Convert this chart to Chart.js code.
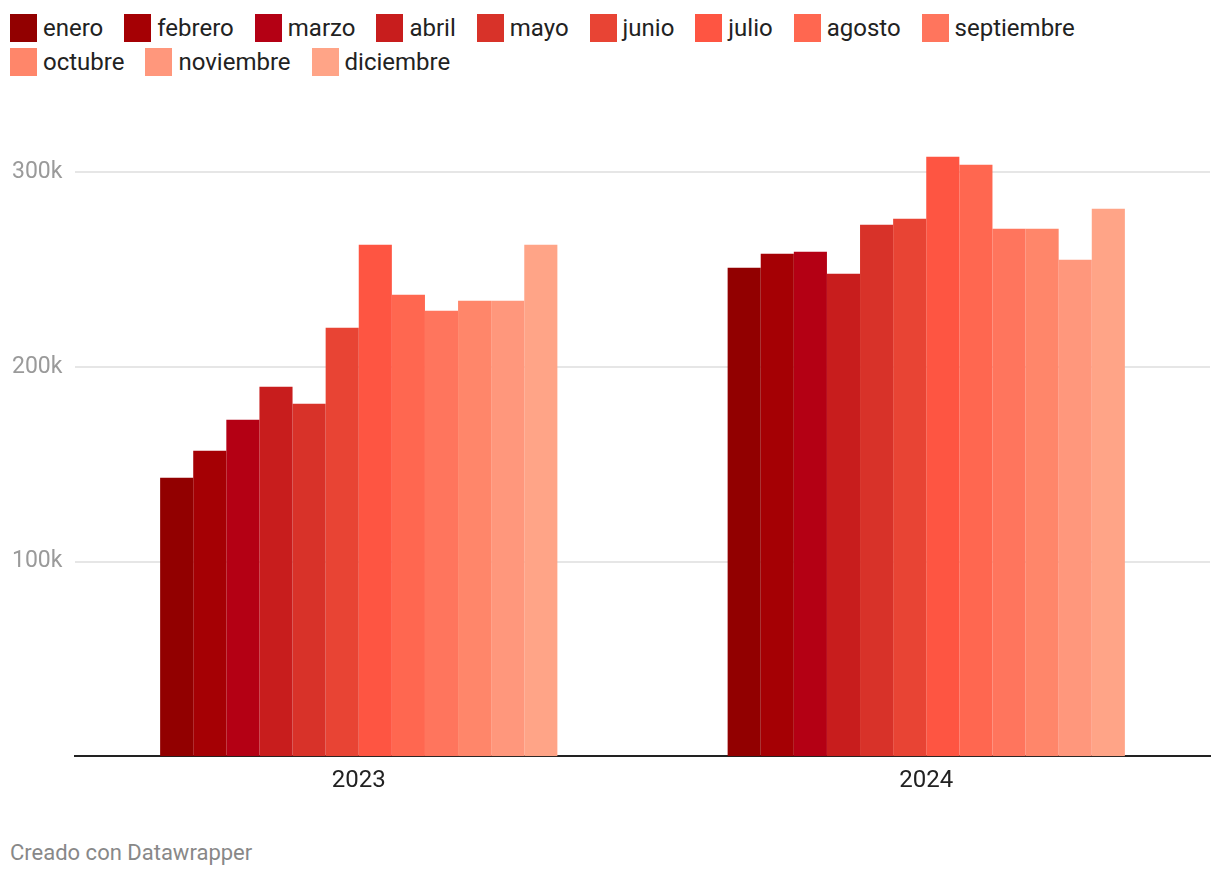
<!DOCTYPE html>
<html lang="es">
<head>
<meta charset="UTF-8">
<title>Meses 2023 - 2024</title>
<script src="https://cdn.jsdelivr.net/npm/chart.js"></script>
<style>
  body { margin: 0; background: #fff; font-family: Roboto, "Noto Sans", sans-serif; }
  #legend { position: absolute; left: 10px; top: 14px; width: 1120px; display: flex; flex-wrap: wrap; row-gap: 6px; }
  .item { display: flex; align-items: center; margin-right: 21px; height: 28px; font-size: 24px; color: #222; }
  .box { width: 27px; height: 28px; margin-right: 6px; }
  #wrap { position: absolute; left: 0; top: 120px; width: 1220px; height: 677px; }
  #credit { position: absolute; left: 10px; top: 840px; font-size: 22px; color: #888; }
</style>
</head>
<body>

<div id="legend"></div>
<div id="wrap"><canvas id="chart"></canvas></div>
<div id="credit">Creado con Datawrapper</div>

<script>
const years = ['2023', '2024'];
const months = ['enero', 'febrero', 'marzo', 'abril', 'mayo', 'junio', 'julio',
                'agosto', 'septiembre', 'octubre', 'noviembre', 'diciembre'];
// value per month, [2023, 2024]
const values2023 = [143000, 156900, 172800, 189800, 181000, 220100, 262700, 237000, 228800, 233900, 233900, 262700];
const values2024 = [250900, 258100, 259100, 247800, 273000, 276100, 307900, 303800, 270900, 270900, 255000, 281200];
const colors = ['#920000', '#a50004', '#b40014', '#c81d1d', '#d83229', '#e84434',
                '#fe5542', '#ff6750', '#ff755d', '#ff866a', '#ff977c', '#ffa487'];
const yTicks = [100000, 200000, 300000];

// legend
const legend = document.getElementById('legend');
months.forEach((m, i) => {
    const item = document.createElement('div');
    item.className = 'item';
    item.innerHTML = '<span class="box" style="background:' + colors[i] + '"></span>' + m;
    legend.appendChild(item);
});

const datasets = months.map((m, i) => ({
    label: m,
    data: [values2023[i], values2024[i]],
    backgroundColor: colors[i],
    borderWidth: 0,
    categoryPercentage: 0.7,
    barPercentage: 1.0
}));

new Chart(document.getElementById('chart'), {
    type: 'bar',
    data: { labels: years, datasets: datasets },
    options: {
        responsive: true,
        maintainAspectRatio: false,
        animation: false,
        layout: { padding: { left: 12, right: 10, top: 23, bottom: 0 } },
        plugins: {
            legend: { display: false },
            tooltip: { enabled: false }
        },
        scales: {
            x: {
                grid: { display: false },
                border: { color: '#222', width: 2 },
                ticks: { color: '#222', font: { family: 'Roboto', size: 24 }, padding: 2 }
            },
            y: {
                min: 0,
                max: 315000,
                afterBuildTicks: axis => { axis.ticks = yTicks.map(v => ({ value: v })); },
                afterFit: scale => { scale.width = 63; },
                border: { display: false },
                grid: { color: '#e6e6e6', lineWidth: 2, drawTicks: false },
                ticks: {
                    color: '#9a9a9a',
                    font: { family: 'Roboto', size: 23 },
                    crossAlign: 'far',
                    callback: v => (v / 1000) + 'k'
                }
            }
        }
    }
});
</script>
</body>
</html>
